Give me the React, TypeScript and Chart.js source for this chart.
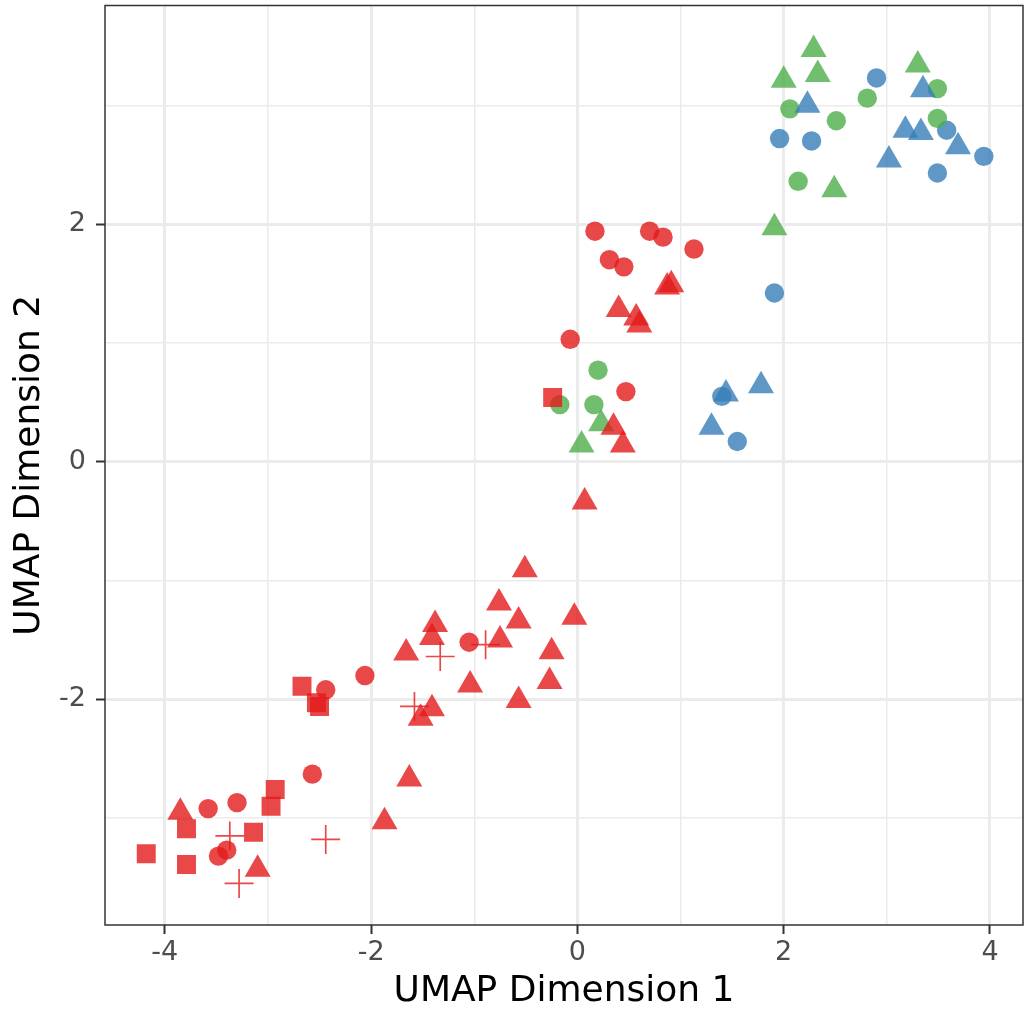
import React, { useEffect, useRef } from 'react';
import { Chart, registerables } from 'chart.js';

Chart.register(...registerables);

// Axis ranges and tick values
const xRange = [-4.58, 4.32];
const yRange = [-3.9, 3.84];
const xGridValues = [-4, -3, -2, -1, 0, 1, 2, 3, 4];
const yGridValues = [-3, -2, -1, 0, 1, 2, 3];
const xLabelValues = [-4, -2, 0, 2, 4];
const yLabelValues = [-2, 0, 2];

// Red group
const redSquareX = [-2.67, -2.53, -2.5, -2.93, -2.97, -3.79, -3.14, -4.18, -3.79, -0.24];
const redSquareY = [-1.89, -2.03, -2.06, -2.76, -2.9, -3.09, -3.12, -3.3, -3.39, 0.54];

const redCircleX = [-2.44, -2.06, -2.57, -3.3, -3.58, -3.4, -3.48, -1.05, 0.17, 0.7, 0.83, 1.13, 0.31, 0.45, -0.07, 0.47];
const redCircleY = [-1.92, -1.8, -2.63, -2.87, -2.92, -3.27, -3.32, -1.52, 1.94, 1.94, 1.89, 1.79, 1.7, 1.64, 1.03, 0.59];

const redTriangleX = [-1.66, -1.52, -1.63, -1.87, -3.85, -3.1, -0.51, -0.76, -0.57, -0.03, -1.38, -1.41, -0.75, -0.25, -1.04, -0.27, -0.57, -1.41, 0.07, 0.87, 0.91, 0.4, 0.57, 0.6, 0.35, 0.44];
const redTriangleY = [-1.61, -2.16, -2.67, -3.03, -2.95, -3.43, -0.91, -1.19, -1.34, -1.31, -1.37, -1.48, -1.5, -1.6, -1.88, -1.85, -2.01, -2.08, -0.34, 1.47, 1.49, 1.28, 1.21, 1.15, 0.29, 0.14];

const redCrossX = [-1.58, -3.37, -3.28, -2.44, -0.89, -1.33];
const redCrossY = [-2.06, -3.15, -3.55, -3.18, -1.54, -1.64];

// Blue group
const blueTriangleX = [1.78, 1.44, 1.3, 3.35, 2.23, 3.18, 3.33, 3.69, 3.02];
const blueTriangleY = [0.64, 0.57, 0.29, 3.13, 3.0, 2.79, 2.77, 2.65, 2.54];

const blueCircleX = [1.91, 1.4, 1.55, 2.9, 3.58, 1.96, 2.27, 3.94, 3.49];
const blueCircleY = [1.42, 0.55, 0.17, 3.23, 2.79, 2.72, 2.7, 2.57, 2.43];

// Green group
const greenTriangleX = [0.23, 0.04, 2.29, 2.0, 2.33, 3.3, 2.49, 1.91];
const greenTriangleY = [0.32, 0.14, 3.47, 3.21, 3.26, 3.34, 2.29, 1.97];

const greenCircleX = [0.2, -0.17, 0.16, 3.49, 2.81, 2.06, 2.51, 3.49, 2.14];
const greenCircleY = [0.77, 0.48, 0.48, 3.14, 3.06, 2.97, 2.87, 2.89, 2.36];

const RED = 'rgba(228,26,28,0.8)';
const BLUE = 'rgba(55,126,184,0.8)';
const GREEN = 'rgba(77,175,74,0.8)';

const zip = (xs: number[], ys: number[]) => xs.map((x, i) => ({ x, y: ys[i] }));

function makeSet(label: string, xs: number[], ys: number[], color: string, style: string, radius: number) {
  const isCross = style === 'cross';
  return {
    label,
    data: zip(xs, ys),
    pointStyle: style,
    pointRadius: radius,
    backgroundColor: isCross ? 'rgba(0,0,0,0)' : color,
    borderColor: color,
    borderWidth: isCross ? 1.7 : 0,
    pointBorderWidth: isCross ? 1.7 : 0,
    showLine: false,
  };
}

const panelBorder = {
  id: 'panelBorder',
  afterDatasetsDraw(chart: any) {
    const { ctx, chartArea } = chart;
    const { left, top, right, bottom } = chartArea;
    ctx.save();
    ctx.strokeStyle = '#333333';
    ctx.lineWidth = 1.5;
    ctx.strokeRect(left, top, right - left, bottom - top);
    ctx.restore();
  },
};

const zeroPadding = (s: any) => {
  s.paddingTop = 0;
  s.paddingBottom = 0;
  s.paddingLeft = 0;
  s.paddingRight = 0;
};

export default function App() {
  const canvasRef = useRef<HTMLCanvasElement | null>(null);

  useEffect(() => {
    document.body.style.margin = '0';
    const canvas = canvasRef.current;
    if (!canvas) return;
    Chart.defaults.font.family = "'DejaVu Sans', sans-serif";

    const datasets = [
      makeSet('red square', redSquareX, redSquareY, RED, 'rect', 13.4),
      makeSet('red circle', redCircleX, redCircleY, RED, 'circle', 9.7),
      makeSet('red triangle', redTriangleX, redTriangleY, RED, 'triangle', 15),
      makeSet('red cross', redCrossX, redCrossY, RED, 'cross', 14.5),
      makeSet('blue triangle', blueTriangleX, blueTriangleY, BLUE, 'triangle', 15),
      makeSet('green triangle', greenTriangleX, greenTriangleY, GREEN, 'triangle', 15),
      makeSet('green circle', greenCircleX, greenCircleY, GREEN, 'circle', 9.7),
      makeSet('blue circle', blueCircleX, blueCircleY, BLUE, 'circle', 9.7),
    ];

    const chart = new Chart(canvas, {
      type: 'scatter',
      data: { datasets: datasets as any },
      plugins: [panelBorder],
      options: {
        responsive: false,
        animation: false,
        events: [],
        layout: { autoPadding: false, padding: { left: 0, top: 5.5, right: 2, bottom: 0 } },
        plugins: {
          legend: { display: false },
          tooltip: { enabled: false },
        },
        scales: {
          x: {
            type: 'linear',
            min: xRange[0],
            max: xRange[1],
            afterBuildTicks: (s: any) => {
              s.ticks = xGridValues.map((v) => ({ value: v }));
            },
            afterFit: (s: any) => {
              s.height = 85;
              zeroPadding(s);
            },
            ticks: {
              autoSkip: false,
              maxRotation: 0,
              padding: 3,
              color: '#4D4D4D',
              font: { size: 27 },
              callback: (v: any) => (xLabelValues.includes(Number(v)) ? String(v) : ''),
            },
            grid: {
              color: '#EBEBEB',
              lineWidth: (c: any) => (xLabelValues.includes(c.tick?.value) ? 3 : 1.5),
              tickLength: 9,
              tickWidth: 2,
              tickColor: (c: any) => (xLabelValues.includes(c.tick?.value) ? '#333333' : 'rgba(0,0,0,0)'),
            },
            border: { display: false },
            title: {
              display: true,
              text: 'UMAP Dimension 1',
              color: '#000000',
              font: { size: 36, lineHeight: 1 },
              padding: 0,
            },
          },
          y: {
            type: 'linear',
            min: yRange[0],
            max: yRange[1],
            afterBuildTicks: (s: any) => {
              s.ticks = yGridValues.map((v) => ({ value: v }));
            },
            afterFit: (s: any) => {
              s.width = 105;
              zeroPadding(s);
            },
            ticks: {
              autoSkip: false,
              padding: 10,
              color: '#4D4D4D',
              font: { size: 27 },
              callback: (v: any) => (yLabelValues.includes(Number(v)) ? String(v) : ''),
            },
            grid: {
              color: '#EBEBEB',
              lineWidth: (c: any) => (yLabelValues.includes(c.tick?.value) ? 3 : 1.5),
              tickLength: 9,
              tickWidth: 2,
              tickColor: (c: any) => (yLabelValues.includes(c.tick?.value) ? '#333333' : 'rgba(0,0,0,0)'),
            },
            border: { display: false },
            title: {
              display: true,
              text: 'UMAP Dimension 2',
              color: '#000000',
              font: { size: 36, lineHeight: 1 },
              padding: { top: 12, bottom: 0 },
            },
          },
        },
      } as any,
    });

    return () => {
      chart.destroy();
    };
  }, []);

  return (
    <div style={{ width: 1025, height: 1010, background: '#ffffff' }}>
      <canvas ref={canvasRef} width={1025} height={1010} style={{ display: 'block', width: 1025, height: 1010 }} />
    </div>
  );
}
